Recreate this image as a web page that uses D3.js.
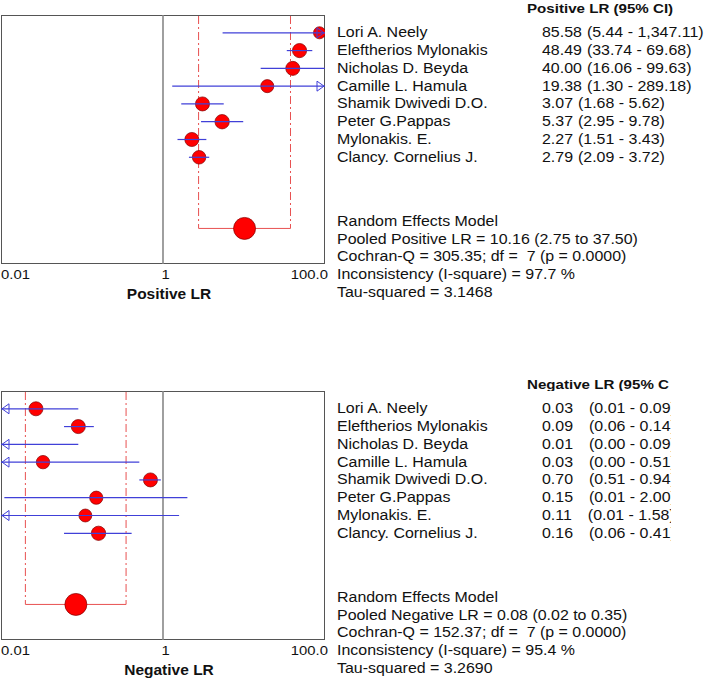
<!DOCTYPE html>
<html><head><meta charset="utf-8">
<script src="https://cdn.jsdelivr.net/npm/d3@7"></script>
<style>
html,body{margin:0;padding:0;background:#fff;overflow:hidden;}
text{font-family:"Liberation Sans",Arial,sans-serif;fill:#111;}
</style></head>
<body><svg id="chart" width="709" height="679"></svg>
<script>
// ---- data ----
const studies = ["Lori A. Neely","Eleftherios Mylonakis","Nicholas D. Beyda","Camille L. Hamula","Shamik Dwivedi D.O.","Peter G.Pappas","Mylonakis. E.","Clancy. Cornelius J."];
const posEst  = [85.58, 48.49, 40.00, 19.38, 3.07, 5.37, 2.27, 2.79];
const posLow  = [5.44, 33.74, 16.06, 1.30, 1.68, 2.95, 1.51, 2.09];
const posHigh = [1347.11, 69.68, 99.63, 289.18, 5.62, 9.78, 3.43, 3.72];
const posWeight = [9.6, 13.2, 13.0, 11.2, 13.0, 13.6, 13.0, 12.0];
const negEst  = [0.027, 0.09, 0.006, 0.033, 0.70, 0.15, 0.11, 0.16];
const negLow  = [0.008, 0.06, 0.001, 0.002, 0.51, 0.011, 0.006, 0.06];
const negHigh = [0.09, 0.14, 0.09, 0.51, 0.94, 2.00, 1.58, 0.41];
const negWeight = [13.0, 13.0, 10.0, 11.8, 13.0, 11.5, 11.0, 13.4];
const pooledEst  = [10.16, 0.084];
const pooledLow  = [2.75, 0.02];
const pooledHigh = [37.50, 0.35];
const cochranQ   = [305.35, 152.37];
const dfValues   = [7, 7];
const pValues    = [0.0000, 0.0000];
const iSquare    = [97.7, 95.4];
const tauSquared = [3.1468, 3.2690];
const tickValues = [0.01, 1, 100];
const tickLabels = ["0.01", "1", "100.0"];
const headers    = ["Positive LR (95% CI)", "Negative LR (95% CI)"];
const axisTitles = ["Positive LR", "Negative LR"];
const pooledNames = ["Pooled Positive LR", "Pooled Negative LR"];

// ---- drawing ----
const svg = d3.select("#chart");
const SX = 1.1;
const x = d3.scaleLog().domain([0.01, 100]).range([1, 325]);
const rScale = d3.scaleSqrt().domain([0, 14]).range([0, 7.3]);
const blue = "#4040d8", red = "#e85050";

function txt(g, px, py, s, size, opts = {}) {
  return g.append("text")
    .attr("transform", `translate(${px},${py}) scale(${opts.sx || SX},1)`)
    .attr("text-anchor", opts.anchor || "start")
    .style("font-size", size + "px")
    .style("font-weight", opts.bold ? "bold" : "normal")
    .style("white-space", "pre")
    .text(s);
}
function clipped(id, x0, x1, y0, y1) {
  svg.append("clipPath").attr("id", id).append("rect")
    .attr("x", x0).attr("y", y0).attr("width", x1 - x0).attr("height", y1 - y0);
  return svg.append("g").attr("clip-path", `url(#${id})`);
}

const panels = [
  {est: posEst, lo: posLow, hi: posHigh, w: posWeight, top: 15, gap: 5, ciFmt: d3.format(",.2f"), clip: null},
  {est: negEst, lo: negLow, hi: negHigh, w: negWeight, top: 391, gap: 16, ciFmt: d3.format(".2f"), clip: [669, 671]}
];
const f2 = d3.format(".2f");

panels.forEach((p, k) => {
  const g = svg.append("g");
  const y = d3.scaleLinear().domain([-1, 13]).range([p.top, p.top + 249]);
  const [x0, x1] = x.range();

  // frame
  g.append("rect").attr("x", x0 + 0.5).attr("y", p.top + 0.5)
    .attr("width", x1 - x0 - 1).attr("height", 248)
    .attr("fill", "none").attr("stroke", "#555").attr("stroke-width", 1);
  // line of no effect
  g.append("line").attr("x1", x(1)).attr("x2", x(1))
    .attr("y1", p.top).attr("y2", p.top + 249)
    .attr("stroke", "#888").attr("stroke-width", 1.6);

  const pg = clipped("plotclip" + k, x0, x1, p.top, p.top + 249);
  // pooled CI dashed verticals
  [pooledLow[k], pooledHigh[k]].forEach(v => {
    pg.append("line").attr("x1", x(v)).attr("x2", x(v))
      .attr("y1", p.top + 1).attr("y2", y(11))
      .attr("stroke", red).attr("stroke-width", 1)
      .attr("stroke-dasharray", "8,3,2,3");
  });
  pg.append("line").attr("x1", x(pooledLow[k])).attr("x2", x(pooledHigh[k]))
    .attr("y1", y(11)).attr("y2", y(11))
    .attr("stroke", red).attr("stroke-width", 1);
  pg.append("circle").attr("cx", x(pooledEst[k])).attr("cy", y(11)).attr("r", 11)
    .attr("fill", "#ff0000").attr("stroke", "#800000").attr("stroke-width", 0.7);

  const idx = d3.range(studies.length);
  // study points
  pg.selectAll("circle.pt").data(idx).join("circle").attr("class", "pt")
    .attr("cx", i => x(p.est[i])).attr("cy", i => y(i)).attr("r", i => rScale(p.w[i]))
    .attr("fill", "#ff0000").attr("stroke", "#800000").attr("stroke-width", 0.7);
  // CI lines
  pg.selectAll("line.ci").data(idx).join("line").attr("class", "ci")
    .attr("x1", i => Math.max(x0, x(p.lo[i]))).attr("x2", i => Math.min(x1, x(p.hi[i])))
    .attr("y1", i => y(i)).attr("y2", i => y(i))
    .attr("stroke", blue).attr("stroke-width", 1.2);
  // arrows for out-of-range limits
  idx.forEach(i => {
    if (p.lo[i] < 0.01) {
      const tx = x0 + 1;
      pg.append("path").attr("d", `M${tx + 7},${y(i) - 5} L${tx},${y(i)} L${tx + 7},${y(i) + 5} Z`)
        .attr("fill", "none").attr("stroke", blue).attr("stroke-width", 1);
    }
    if (p.hi[i] > 100) {
      const tx = x1 - 1;
      pg.append("path").attr("d", `M${tx - 7},${y(i) - 5} L${tx},${y(i)} L${tx - 7},${y(i) + 5} Z`)
        .attr("fill", "none").attr("stroke", blue).attr("stroke-width", 1);
    }
  });

  // axis labels
  const anchors = ["start", "middle", "end"], offs = [0, 2.5, 3];
  tickValues.forEach((v, j) => {
    txt(g, x(v) + offs[j], p.top + 249 + 14.5, tickLabels[j], 13.5, {anchor: anchors[j]});
  });
  txt(g, 169, p.top + 249 + 34.5, axisTitles[k], 14.5, {anchor: "middle", bold: true, sx: 1.07});

  // right-hand table
  const hg = p.clip ? clipped("headclip" + k, 330, p.clip[0], p.top - 30, p.top) : svg.append("g");
  const tg = p.clip ? clipped("textclip" + k, 330, p.clip[1], p.top, 679) : svg.append("g");
  txt(hg, 527, p.top - 2, headers[k], 13.5, {bold: true, sx: 1.12});
  idx.forEach(i => {
    txt(tg, 337, y(i) + 4.5, studies[i], 14.5);
    const t = txt(tg, 542, y(i) + 4.5, "", 14.5);
    t.append("tspan").text(f2(p.est[i]));
    t.append("tspan").attr("dx", p.gap / SX)
      .text(`(${p.ciFmt(p.lo[i])} - ${p.ciFmt(p.hi[i])})`);
  });
  const lines = [
    "Random Effects Model",
    `${pooledNames[k]} = ${f2(pooledEst[k])} (${f2(pooledLow[k])} to ${f2(pooledHigh[k])})`,
    `Cochran-Q = ${f2(cochranQ[k])}; df =  ${dfValues[k]} (p = ${d3.format(".4f")(pValues[k])})`,
    `Inconsistency (I-square) = ${d3.format(".1f")(iSquare[k])} %`,
    `Tau-squared = ${d3.format(".4f")(tauSquared[k])}`
  ];
  lines.forEach((s, j) => txt(tg, 337, p.top + 211 + j * 17.7, s, 14.5));
});
</script></body></html>
